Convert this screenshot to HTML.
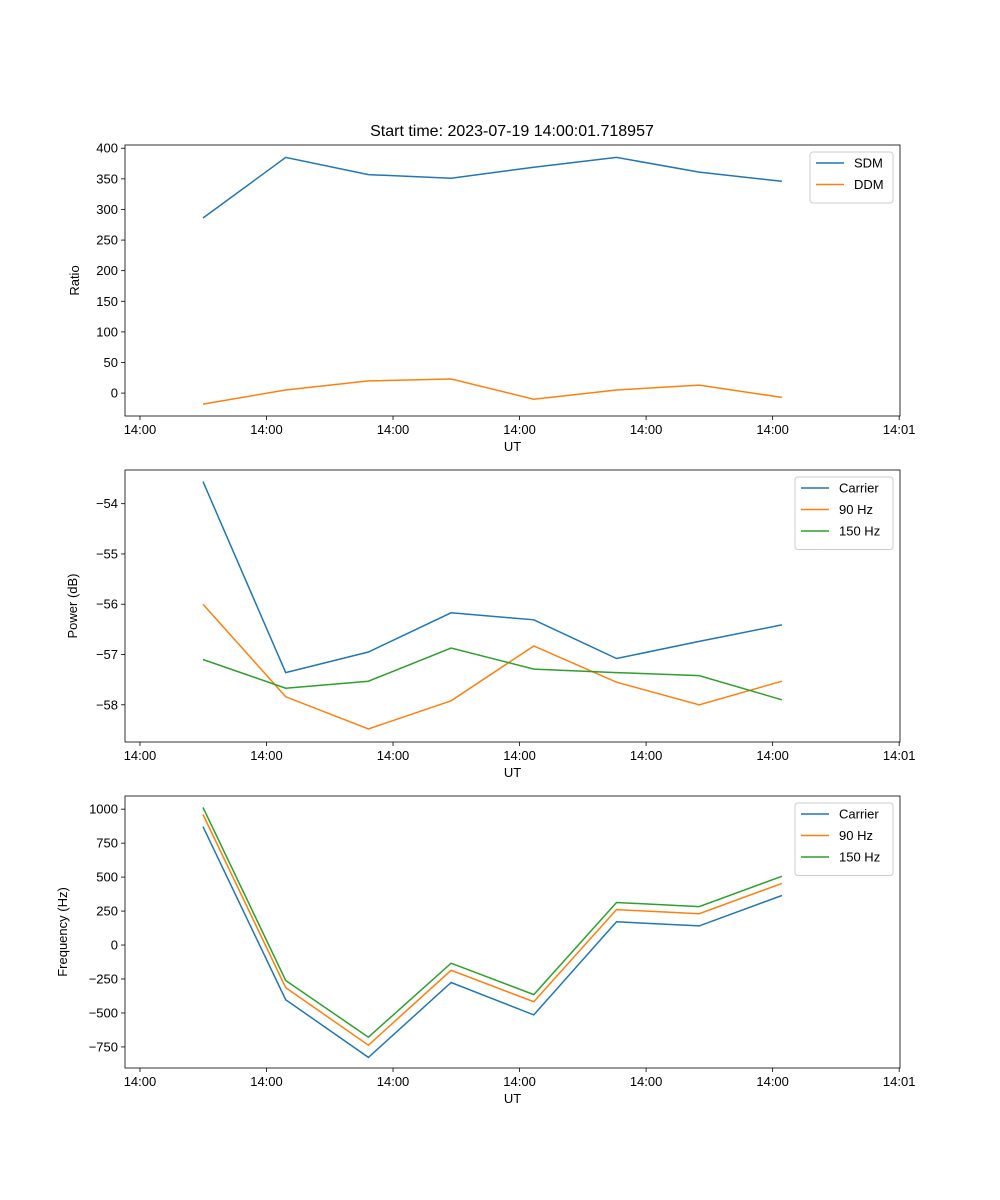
<!DOCTYPE html>
<html><head><meta charset="utf-8"><style>
body{margin:0;background:#fff;}
svg{display:block;font-family:"Liberation Sans","DejaVu Sans",sans-serif;}
</style></head><body>
<svg id="fig" width="1000" height="1200"></svg>
<script>
const categories=[0,1,2,3,4,5,6,7];
const xTickValues=[-0.762,0.768,2.298,3.828,5.358,6.888,8.418];
const xTickLabels=["14:00","14:00","14:00","14:00","14:00","14:00","14:01"];
const sdmValues=[286,385,357,351,369,385,361,346];
const ddmValues=[-18,5,20,23,-10,5,13,-7];
const powerCarrier=[-53.56,-57.36,-56.95,-56.17,-56.31,-57.08,-56.74,-56.41];
const power90=[-56.0,-57.84,-58.48,-57.92,-56.83,-57.55,-58.0,-57.53];
const power150=[-57.1,-57.67,-57.53,-56.87,-57.29,-57.36,-57.42,-57.9];
const freqCarrier=[871,-402,-827,-276,-514,171,141,365];
const freq90=[961,-313,-737,-186,-417,261,231,454];
const freq150=[1013,-261,-678,-134,-365,313,283,506];
const ratioTicks=[0,50,100,150,200,250,300,350,400];
const powerTicks=[-58,-57,-56,-55,-54];
const freqTicks=[-750,-500,-250,0,250,500,750,1000];
const C=["#1f77b4","#ff7f0e","#2ca02c"];
const NS="http://www.w3.org/2000/svg";
const svg=document.getElementById('fig');
function el(t,a,p){const e=document.createElementNS(NS,t);for(const k in a)e.setAttribute(k,a[k]);(p||svg).appendChild(e);return e;}
const X0=125,X1=900,XD0=-0.943,XD1=8.428;
function xs(v){return X0+(v-XD0)/(XD1-XD0)*(X1-X0);}
function panel(name,top,bot,d0,d1,ticks,ylabel,series,labels,legX,legW){
  const g=el('g',{});
  
  
  const ys=v=>bot-(v-d0)/(d1-d0)*(bot-top);
  series.forEach((s,i)=>{
    const pts=categories.map((c,j)=>xs(c).toFixed(1)+','+ys(s[j]).toFixed(1)).join(' ');
    const l=el('polyline',{points:pts,fill:'none',stroke:C[i],'stroke-width':1.5},g);
    
    
  });
  el('rect',{x:X0,y:top,width:X1-X0,height:bot-top,fill:'none',stroke:'#000','stroke-width':0.8},g);
  xTickValues.forEach((v,i)=>{const x=xs(v);
    el('line',{x1:x,x2:x,y1:bot,y2:bot+4,stroke:'#000','stroke-width':0.8},g);
    const t=el('text',{x:x,y:bot+18,'font-size':13,'text-anchor':'middle'},g);t.textContent=xTickLabels[i];
    });
  ticks.forEach(v=>{const y=ys(v);
    el('line',{x1:X0-4,x2:X0,y1:y,y2:y,stroke:'#000','stroke-width':0.8},g);
    const t=el('text',{x:X0-7,y:y+4.5,'font-size':13,'text-anchor':'end'},g);t.textContent=(v<0?'\u2212'+(-v):v);
    });
  const xl=el('text',{x:(X0+X1)/2,y:bot+35,'font-size':13,'text-anchor':'middle'},g);xl.textContent='UT';
  
  const cy=(top+bot)/2;
  const yl=el('text',{x:0,y:0,'font-size':13,'text-anchor':'middle',transform:`translate(${top<200?79:top<500?77:67},${cy}) rotate(-90)`},g);yl.textContent=ylabel;
  
  const lg=el('g',{},g);
  const lh=8+labels.length*21.5;
  el('rect',{x:legX,y:top+7,width:legW,height:lh,rx:3,fill:'#fff',stroke:'#ccc','stroke-width':1},lg);
  labels.forEach((lab,i)=>{const y=top+18+i*21.5;
    el('line',{x1:legX+6,x2:legX+34,y1:y,y2:y,stroke:C[i],'stroke-width':1.5},lg);
    const t=el('text',{x:legX+44,y:y+4.5,'font-size':13},lg);t.textContent=lab;
    });
}
const tt=el('text',{x:512,y:136,'font-size':16,'text-anchor':'middle'});tt.textContent='Start time: 2023-07-19 14:00:01.718957';

panel('ratio-panel',145,416,-37.4,405.3,ratioTicks,'Ratio',[sdmValues,ddmValues],['SDM','DDM'],810,83);
panel('power-panel',470,742,-58.74,-53.33,powerTicks,'Power (dB)',[powerCarrier,power90,power150],['Carrier','90 Hz','150 Hz'],795,98);
panel('frequency-panel',796,1068,-905,1097,freqTicks,'Frequency (Hz)',[freqCarrier,freq90,freq150],['Carrier','90 Hz','150 Hz'],795,98);
</script>
</body></html>
